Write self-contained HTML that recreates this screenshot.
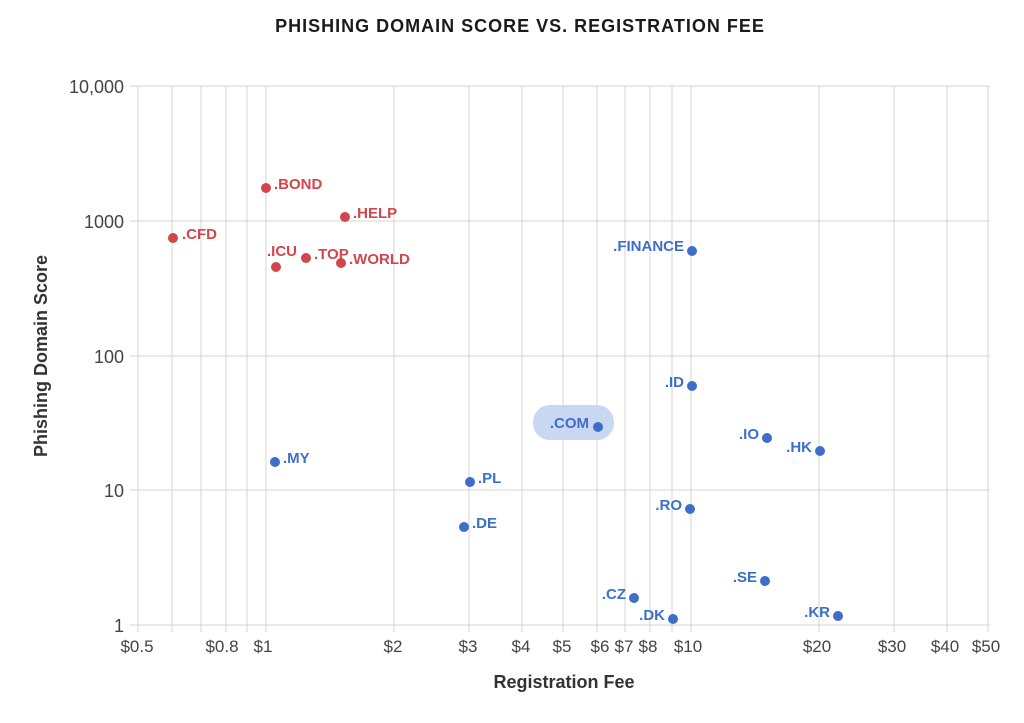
<!DOCTYPE html>
<html><head><style>
body{margin:0;background:#fff;}
svg text{font-family:"Liberation Sans",sans-serif;}
</style></head><body>
<svg width="1024" height="718" viewBox="0 0 1024 718" xmlns="http://www.w3.org/2000/svg">
<rect width="1024" height="718" fill="#fff"/>
<text x="520" y="32" text-anchor="middle" font-size="18" font-weight="bold" fill="#1a1a1a" letter-spacing="1">PHISHING DOMAIN SCORE VS. REGISTRATION FEE</text>
<g stroke="#d4d4d4" stroke-width="1">
<line x1="138" y1="86" x2="138" y2="632"/>
<line x1="172" y1="86" x2="172" y2="632"/>
<line x1="201" y1="86" x2="201" y2="632"/>
<line x1="226" y1="86" x2="226" y2="632"/>
<line x1="247" y1="86" x2="247" y2="632"/>
<line x1="266" y1="86" x2="266" y2="632"/>
<line x1="394" y1="86" x2="394" y2="632"/>
<line x1="469" y1="86" x2="469" y2="632"/>
<line x1="522" y1="86" x2="522" y2="632"/>
<line x1="563" y1="86" x2="563" y2="632"/>
<line x1="597" y1="86" x2="597" y2="632"/>
<line x1="625" y1="86" x2="625" y2="632"/>
<line x1="650" y1="86" x2="650" y2="632"/>
<line x1="672" y1="86" x2="672" y2="632"/>
<line x1="691" y1="86" x2="691" y2="632"/>
<line x1="819" y1="86" x2="819" y2="632"/>
<line x1="894" y1="86" x2="894" y2="632"/>
<line x1="947" y1="86" x2="947" y2="632"/>
<line x1="988" y1="86" x2="988" y2="632"/>
<line x1="130" y1="86" x2="990" y2="86"/>
<line x1="130" y1="221" x2="990" y2="221"/>
<line x1="130" y1="356" x2="990" y2="356"/>
<line x1="130" y1="490" x2="990" y2="490"/>
<line x1="130" y1="625" x2="990" y2="625"/>
</g>
<g font-size="18" fill="#444" text-anchor="end">
<text x="124" y="93">10,000</text>
<text x="124" y="228">1000</text>
<text x="124" y="363">100</text>
<text x="124" y="497">10</text>
<text x="124" y="632">1</text>
</g>
<g font-size="17" fill="#444" text-anchor="middle">
<text x="137" y="652">$0.5</text>
<text x="222" y="652">$0.8</text>
<text x="263" y="652">$1</text>
<text x="393" y="652">$2</text>
<text x="468" y="652">$3</text>
<text x="521" y="652">$4</text>
<text x="562" y="652">$5</text>
<text x="600" y="652">$6</text>
<text x="624" y="652">$7</text>
<text x="648" y="652">$8</text>
<text x="688" y="652">$10</text>
<text x="817" y="652">$20</text>
<text x="892" y="652">$30</text>
<text x="945" y="652">$40</text>
<text x="986" y="652">$50</text>
</g>
<text x="564" y="688" text-anchor="middle" font-size="18" font-weight="bold" fill="#333">Registration Fee</text>
<text transform="translate(47,356) rotate(-90)" text-anchor="middle" font-size="18" font-weight="bold" fill="#333">Phishing Domain Score</text>
<rect x="533" y="405" width="81" height="35" rx="17" fill="#c9d7f2"/>
<g fill="#d0464a">
<circle cx="173" cy="238" r="5"/><circle cx="266" cy="188" r="5"/><circle cx="345" cy="217" r="5"/>
<circle cx="276" cy="267" r="5"/><circle cx="306" cy="258" r="5"/><circle cx="341" cy="263" r="5"/>
</g>
<g fill="#d0464a" font-size="15" font-weight="bold">
<text x="182" y="239">.CFD</text>
<text x="274" y="189">.BOND</text>
<text x="353" y="218">.HELP</text>
<text x="267" y="256">.ICU</text>
<text x="314" y="259">.TOP</text>
<text x="349" y="264">.WORLD</text>
</g>
<g fill="#3d6fc9">
<circle cx="692" cy="251" r="5"/><circle cx="692" cy="386" r="5"/><circle cx="598" cy="427" r="5"/>
<circle cx="767" cy="438" r="5"/><circle cx="820" cy="451" r="5"/><circle cx="275" cy="462" r="5"/>
<circle cx="470" cy="482" r="5"/><circle cx="464" cy="527" r="5"/><circle cx="690" cy="509" r="5"/>
<circle cx="765" cy="581" r="5"/><circle cx="634" cy="598" r="5"/><circle cx="673" cy="619" r="5"/>
<circle cx="838" cy="616" r="5"/>
</g>
<g fill="#3d6fc9" font-size="15" font-weight="bold">
<text x="684" y="251" text-anchor="end">.FINANCE</text>
<text x="684" y="387" text-anchor="end">.ID</text>
<text x="589" y="428" text-anchor="end">.COM</text>
<text x="759" y="439" text-anchor="end">.IO</text>
<text x="812" y="452" text-anchor="end">.HK</text>
<text x="283" y="463">.MY</text>
<text x="478" y="483">.PL</text>
<text x="472" y="528">.DE</text>
<text x="682" y="510" text-anchor="end">.RO</text>
<text x="757" y="582" text-anchor="end">.SE</text>
<text x="626" y="599" text-anchor="end">.CZ</text>
<text x="665" y="620" text-anchor="end">.DK</text>
<text x="830" y="617" text-anchor="end">.KR</text>
</g>
</svg>
</body></html>
